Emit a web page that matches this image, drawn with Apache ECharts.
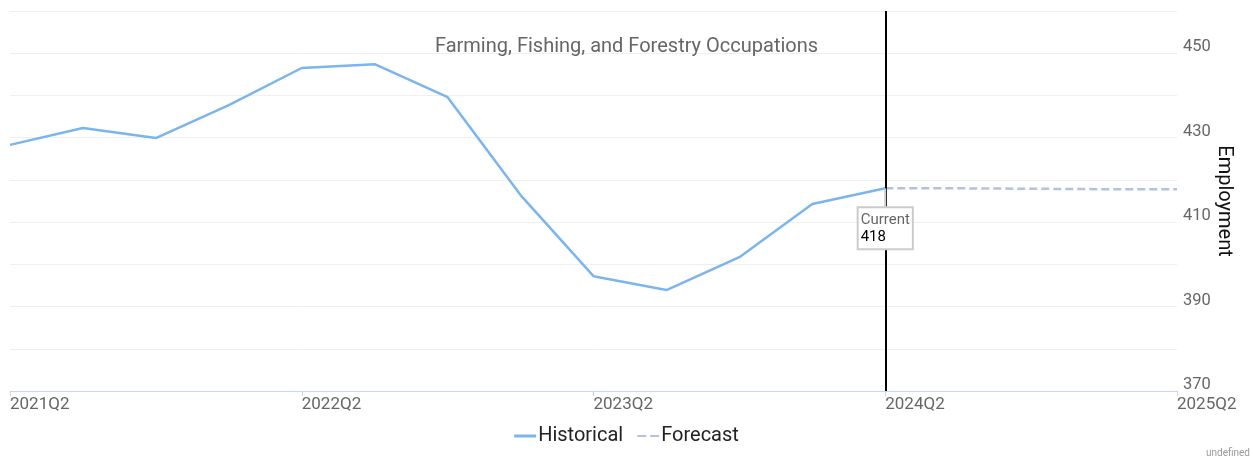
<!DOCTYPE html>
<html><head><meta charset="utf-8">
<script src="https://cdn.jsdelivr.net/npm/echarts@6/dist/echarts.min.js"></script>
<style>html,body{margin:0;padding:0;background:#fff}#c{width:1253px;height:460px}</style>
</head><body><div id="c"></div>
<script>
const categories = ['2021Q2','2021Q3','2021Q4','2022Q1','2022Q2','2022Q3','2022Q4','2023Q1','2023Q2','2023Q3','2023Q4','2024Q1','2024Q2','2024Q3','2024Q4','2025Q1','2025Q2'];
const historical = [428.3,432.3,429.9,437.7,446.5,447.4,439.6,416.4,397.2,393.9,401.7,414.3,418,null,null,null,null];
const forecast = [null,null,null,null,null,null,null,null,null,null,null,null,418,418,417.9,417.8,417.8];
const currentLabel = 'Current';
const currentCategory = '2024Q2';
const currentValue = 418;
const titleText = 'Farming, Fishing, and Forestry Occupations';

const chart = echarts.init(document.getElementById('c'));
chart.setOption({
  animation: false,
  title: { text: titleText, left: 'center', top: 32, textStyle: { color: '#666', fontSize: 20, fontWeight: 'normal', fontFamily: 'Roboto' } },
  legend: { bottom: 9, left: 'center', itemWidth: 22, itemHeight: 3, itemGap: 14,
    textStyle: { color: '#222', fontSize: 20, fontFamily: 'Roboto', padding: [0, 0, 0, -3] },
    data: [
      { name: 'Historical', icon: 'rect' },
      { name: 'Forecast', icon: 'path://M0,0h9v2h-9zM13,0h9v2h-9z' }
    ] },
  graphic: [{ type: 'text', right: 3, bottom: 2, style: { text: 'undefined', fill: '#999', fontSize: 10, fontFamily: 'Roboto' } }],
  grid: { left: 10, right: 76, top: 11, bottom: 69 },
  xAxis: { type: 'category', data: categories, boundaryGap: false,
    axisLine: { lineStyle: { color: '#ccd6eb' } },
    axisTick: { interval: 3, length: 5, lineStyle: { color: '#ccd6eb' } },
    axisLabel: { interval: 3, align: 'left', color: '#666', fontSize: 17, fontFamily: 'Roboto', margin: 5, showMaxLabel: true },
    splitLine: { show: false } },
  yAxis: { type: 'value', position: 'right', min: 370, max: 460, interval: 10,
    name: 'Employment', nameLocation: 'middle', nameRotate: -90, nameGap: 37, nameMoveOverlap: false,
    nameTextStyle: { color: '#111', fontSize: 20, fontFamily: 'Roboto' },
    axisLine: { show: false }, axisTick: { show: false },
    axisLabel: { color: '#666', fontSize: 16.5, fontFamily: 'Roboto', margin: 6, verticalAlign: 'bottom', lineHeight: 12,
      formatter: v => ((v - 370) % 20 === 0 && v < 460) ? String(v) : '' },
    splitLine: { lineStyle: { color: '#efefef', width: 1 } } },
  series: [
    { name: 'Historical', type: 'line', data: historical, symbol: 'none', showSymbol: false,
      lineStyle: { color: '#7cb5ec', width: 2.5 }, itemStyle: { color: '#7cb5ec' },
      markLine: { silent: true, symbol: 'none', label: { show: false },
        lineStyle: { color: '#000', width: 2, type: 'solid' },
        data: [{ xAxis: currentCategory }] },
      markPoint: { silent: true, symbol: 'rect', symbolSize: [2, 20], symbolOffset: [0, '50%'],
        itemStyle: { color: '#ccc' },
        data: [{ coord: [currentCategory, currentValue], value: currentValue }],
        label: { show: true, position: 'bottom', distance: 0, align: 'center',
          backgroundColor: '#fff', borderColor: '#ccc', borderWidth: 2, padding: [3, 2, 2, 2],
          formatter: p => '{a|' + currentLabel + '}\n{b|' + p.value + '}',
          rich: { a: { color: '#666', fontSize: 15, fontFamily: 'Roboto', lineHeight: 17, align: 'left' },
                  b: { color: '#000', fontSize: 15, fontFamily: 'Roboto', lineHeight: 18, align: 'left' } } } } },
    { name: 'Forecast', type: 'line', data: forecast, symbol: 'none', showSymbol: false,
      lineStyle: { color: '#b0c4de', width: 2.5, type: [8, 4] }, itemStyle: { color: '#b0c4de' } }
  ]
});
</script></body></html>
